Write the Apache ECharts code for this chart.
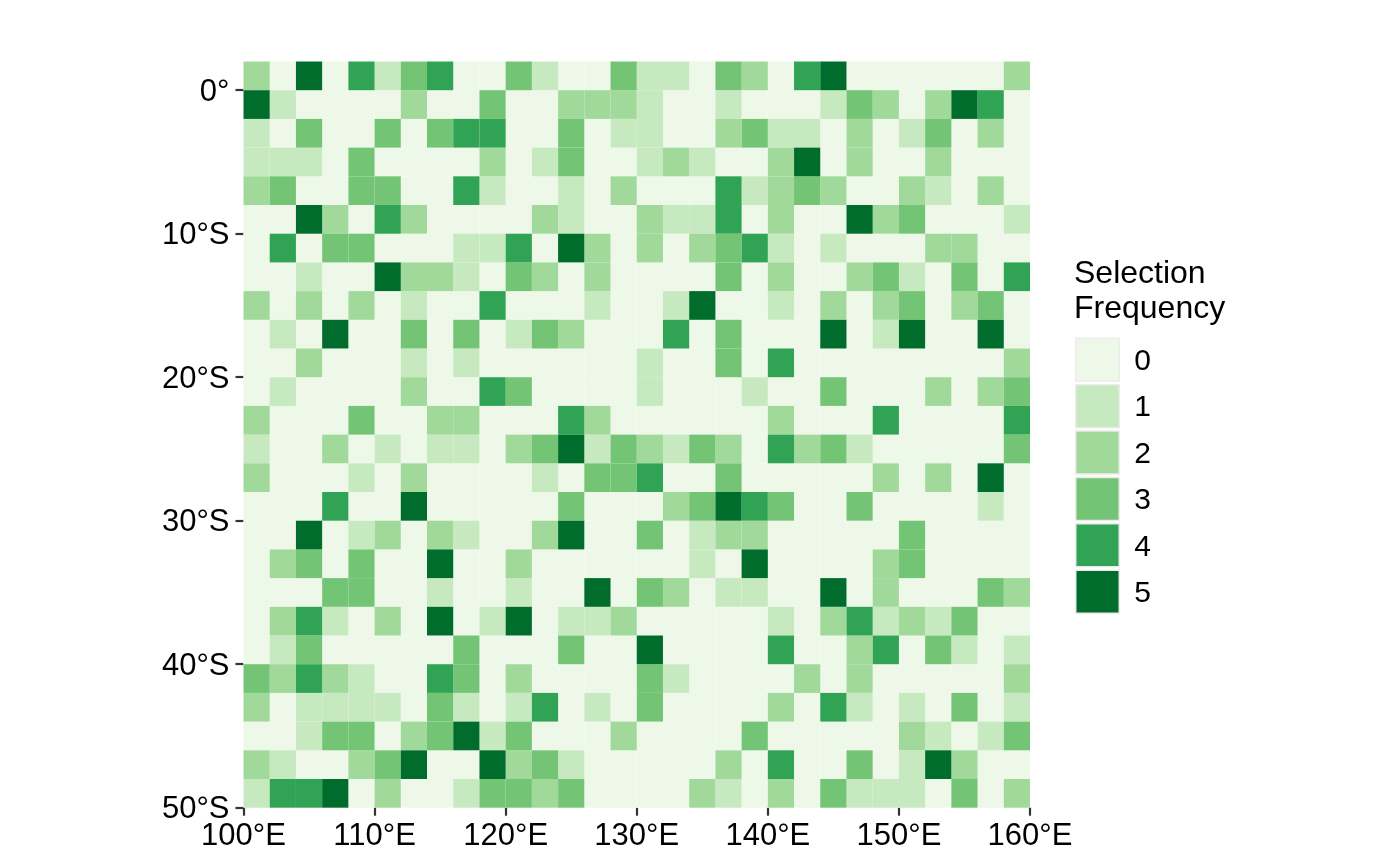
<!DOCTYPE html>
<html><head><meta charset="utf-8">
<style>html,body{margin:0;padding:0;background:#fff}#c{width:1400px;height:866px}</style>
<script src="https://cdn.jsdelivr.net/npm/echarts@6/dist/echarts.min.js"></script>
</head><body><div id="c"></div>
<script>
const levels = ['0','1','2','3','4','5'];
const colors = ['#EDF8E9','#C7E9C0','#A1D99B','#74C476','#31A354','#006D2C'];
const xTicks = [100,110,120,130,140,150,160];
const yTicks = [0,-10,-20,-30,-40,-50];
const lonStart = 100, latTop = 2, cellDeg = 2;
const rows = [
[2,0,5,0,4,1,3,4,0,0,3,1,0,0,3, 1,1,0,3,2,0,4,5,0,0,0,0,0,0,2],
[5,1,0,0,0,0,2,0,0,3,0,0,2,2,2, 1,0,0,1,0,0,0,1,3,2,0,2,5,4,0],
[1,0,3,0,0,3,0,3,4,4,0,0,3,0,1, 1,0,0,2,3,1,1,0,2,0,1,3,0,2,0],
[1,1,1,0,3,0,0,0,0,2,0,1,3,0,0, 1,2,1,0,0,2,5,0,2,0,0,2,0,0,0],
[2,3,0,0,3,3,0,0,4,1,0,0,1,0,2, 0,0,0,4,1,2,3,2,0,0,2,1,0,2,0],
[0,0,5,2,0,4,2,0,0,0,0,2,1,0,0, 2,1,1,4,0,2,0,0,5,2,3,0,0,0,1],
[0,4,0,3,3,0,0,0,1,1,4,0,5,2,0, 2,0,2,3,4,1,0,1,0,0,0,2,2,0,0],
[0,0,1,0,0,5,2,2,1,0,3,2,0,2,0, 0,0,0,3,0,2,0,0,2,3,1,0,3,0,4],
[2,0,2,0,2,0,1,0,0,4,0,0,0,1,0, 0,1,5,0,0,1,0,2,0,2,3,0,2,3,0],
[0,1,0,5,0,0,3,0,3,0,1,3,2,0,0, 0,4,0,3,0,0,0,5,0,1,5,0,0,5,0],
[0,0,2,0,0,0,1,0,1,0,0,0,0,0,0, 1,0,0,3,0,4,0,0,0,0,0,0,0,0,2],
[0,1,0,0,0,0,2,0,0,4,3,0,0,0,0, 1,0,0,0,1,0,0,3,0,0,0,2,0,2,3],
[2,0,0,0,3,0,0,2,2,0,0,0,4,2,0, 0,0,0,0,0,2,0,0,0,4,0,0,0,0,4],
[1,0,0,2,0,1,0,1,1,0,2,3,5,1,3, 2,1,3,2,0,4,2,3,1,0,0,0,0,0,3],
[2,0,0,0,1,0,2,0,0,0,0,1,0,3,3, 4,0,0,3,0,0,0,0,0,2,0,2,0,5,0],
[0,0,0,4,0,0,5,0,0,0,0,0,3,0,0, 0,2,3,5,4,3,0,0,3,0,0,0,0,1,0],
[0,0,5,0,1,2,0,2,1,0,0,2,5,0,0, 3,0,1,2,2,0,0,0,0,0,3,0,0,0,0],
[0,2,3,0,3,0,0,5,0,0,2,0,0,0,0, 0,0,1,0,5,0,0,0,0,2,3,0,0,0,0],
[0,0,0,3,3,0,0,1,0,0,1,0,0,5,0, 3,2,0,1,1,0,0,5,0,2,0,0,0,3,2],
[0,2,4,1,0,2,0,5,0,1,5,0,1,1,2, 0,0,0,0,0,1,0,2,4,1,2,1,3,0,0],
[0,1,3,0,0,0,0,0,3,0,0,0,3,0,0, 5,0,0,0,0,4,0,0,2,4,0,3,1,0,1],
[3,2,4,2,1,0,0,4,3,0,2,0,0,0,0, 3,1,0,0,0,0,2,0,2,0,0,0,0,0,2],
[2,0,1,1,1,1,0,3,1,0,1,4,0,1,0, 3,0,0,0,0,2,0,4,1,0,1,0,3,0,1],
[0,0,1,3,3,0,2,3,5,1,3,0,0,0,2, 0,0,0,0,3,0,0,0,0,0,2,1,0,1,3],
[2,1,0,0,2,3,5,0,0,5,2,3,1,0,0, 0,0,0,2,0,4,0,0,3,0,1,5,2,0,0],
[1,4,4,5,0,2,0,0,1,3,3,2,3,0,0, 0,0,2,1,0,2,0,3,1,1,1,0,3,0,2]
];
const FONT = '"Liberation Sans", Arial, Helvetica, sans-serif';
const TICK = '#333333';

function levelData(level){
  const out = [];
  rows.forEach((row,r)=>row.forEach((v,c)=>{
    if(v===level) out.push([lonStart+c*cellDeg, latTop-r*cellDeg]);
  }));
  return out;
}
function renderCell(params, api){
  const p0 = api.coord([api.value(0), api.value(1)]);
  const p1 = api.coord([api.value(0)+cellDeg, api.value(1)-cellDeg]);
  return {type:'rect', shape:{x:p0[0],y:p0[1],width:p1[0]-p0[0],height:p1[1]-p0[1]},
          style:{fill:api.visual('color')}};
}
const chart = echarts.init(document.getElementById('c'),null,{renderer:'canvas'});
chart.setOption({
  animation:false,
  backgroundColor:'#ffffff',
  grid:{left:243.5,top:61.5,width:786.5,height:746.2,containLabel:false},
  title:{text:'Selection\nFrequency',left:1069,top:252,
    textStyle:{fontFamily:FONT,fontSize:32,fontWeight:'normal',color:'#000',lineHeight:35}},
  legend:{orient:'vertical',left:1070,top:332.5,itemWidth:43.5,itemHeight:43,itemGap:1.9,selectedMode:false,
    icon:'rect',data:levels,
    itemStyle:{borderColor:'#ececec',borderWidth:1.5},
    formatter:'{a|{name}}',
    textStyle:{rich:{a:{fontFamily:FONT,fontSize:30,color:'#000',padding:[4,0,0,10]}}}},
  xAxis:{type:'value',min:100,max:160,interval:10,splitLine:{show:false},axisLine:{show:false,onZero:false},
    axisTick:{show:true,length:8,lineStyle:{color:TICK,width:2.2},customValues:xTicks},
    axisLabel:{fontFamily:FONT,fontSize:31,color:'#000',margin:13,customValues:xTicks,hideOverlap:false,
      formatter:v=>v+'°E'}},
  yAxis:{type:'value',min:-50,max:2,interval:10,splitLine:{show:false},axisLine:{show:false,onZero:false},
    axisTick:{show:true,length:8,lineStyle:{color:TICK,width:2.2},customValues:yTicks},
    axisLabel:{fontFamily:FONT,fontSize:31,color:'#000',margin:14,verticalAlign:'top',lineHeight:4,customValues:yTicks,hideOverlap:false,
      formatter:v=>v===0?'0°':Math.abs(v)+'°S'}},
  series:levels.map((name,i)=>({
    type:'custom',name,renderItem:renderCell,
    coordinateSystem:'cartesian2d',
    itemStyle:{color:colors[i]},
    encode:{x:0,y:1},
    data:levelData(i),
    silent:true
  }))
});
</script></body></html>
